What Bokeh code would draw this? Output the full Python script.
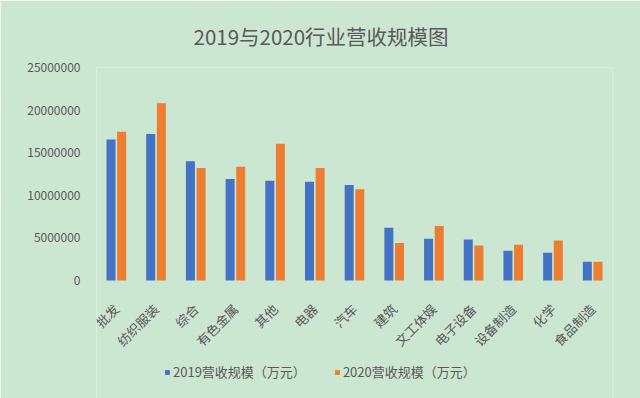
from bokeh.plotting import figure
from bokeh.models import (FactorRange, Range1d, FixedTicker, NumeralTickFormatter,
                          Legend, LegendItem, ColumnDataSource, Title)
from bokeh.transform import dodge
from bokeh.embed import file_html
from bokeh.resources import INLINE
import math

categories = ["批发", "纺织服装", "综合", "有色金属", "其他", "电器", "汽车",
              "建筑", "文工体娱", "电子设备", "设备制造", "化学", "食品制造"]
rev2019 = [16550000, 17200000, 14000000, 11900000, 11700000, 11600000, 11200000,
           6200000, 4900000, 4800000, 3500000, 3250000, 2200000]
rev2020 = [17450000, 20800000, 13200000, 13350000, 16050000, 13200000, 10700000,
           4400000, 6400000, 4100000, 4200000, 4700000, 2200000]
y_ticks = [0, 5000000, 10000000, 15000000, 20000000, 25000000]
series_names = ["2019营收规模（万元）", "2020营收规模（万元）"]
title_text = "2019与2020行业营收规模图"

BG = "#cce7d1"
TXT = "#595959"
FONT = "Noto Sans CJK SC"
BLUE = "#4472C4"
ORANGE = "#ED7D31"

# frame: top at 25M (y=67 px), value 0 at y=280 px, frame bottom at 398 px
Y_MAX = 25000000
Y_MIN = -Y_MAX * (398 - 280) / (280 - 67)

src = ColumnDataSource(dict(cat=categories, a=rev2019, b=rev2020))

p = figure(width=640, height=398, x_range=FactorRange(*categories),
           y_range=Range1d(Y_MIN, Y_MAX), output_backend="svg",
           toolbar_location=None, min_border_left=96, min_border_right=28,
           min_border_top=67, min_border_bottom=0,
           background_fill_color=BG, border_fill_color=BG, outline_line_color=None)

p.add_layout(Title(text=title_text, text_font=FONT, text_font_size="20.5px",
                   text_color=TXT, text_font_style="normal", align="left",
                   offset=97, standoff=34), "above")

r1 = p.vbar(x=dodge("cat", -0.134, range=p.x_range), top="a", width=0.227,
            source=src, fill_color=BLUE, line_color=None)
r2 = p.vbar(x=dodge("cat", 0.134, range=p.x_range), top="b", width=0.227,
            source=src, fill_color=ORANGE, line_color=None)

p.xgrid.visible = False
p.ygrid.visible = False

p.yaxis.ticker = FixedTicker(ticks=y_ticks)
p.yaxis.formatter = NumeralTickFormatter(format="0")
p.yaxis.axis_line_color = None
p.yaxis.major_tick_line_color = None
p.yaxis.minor_tick_line_color = None
p.yaxis.major_label_standoff = 10
p.yaxis.major_label_text_font = FONT
p.yaxis.major_label_text_font_size = "12px"
p.yaxis.major_label_text_color = TXT

p.xaxis.fixed_location = 0
p.xaxis.axis_line_color = None
p.xaxis.major_tick_line_color = None
p.xaxis.minor_tick_line_color = None
p.xaxis.major_label_orientation = math.pi / 4
p.xaxis.major_label_standoff = 20
p.xaxis.major_label_text_font = FONT
p.xaxis.major_label_text_font_size = "13px"
p.xaxis.major_label_text_color = TXT

legend = Legend(items=[LegendItem(label=series_names[0], renderers=[r1]),
                       LegendItem(label=series_names[1], renderers=[r2])],
                location=(68, 17), orientation="horizontal",
                glyph_width=6, glyph_height=6, label_height=14, label_standoff=3,
                spacing=28, padding=0, margin=0,
                label_text_font=FONT, label_text_font_size="13px",
                label_text_color=TXT, border_line_color=None,
                background_fill_alpha=0)
p.add_layout(legend)

html = file_html(p, INLINE)
html = html.replace("<body>", '<body style="background-color:%s">' % BG, 1)
open("out.html", "w").write(html)
